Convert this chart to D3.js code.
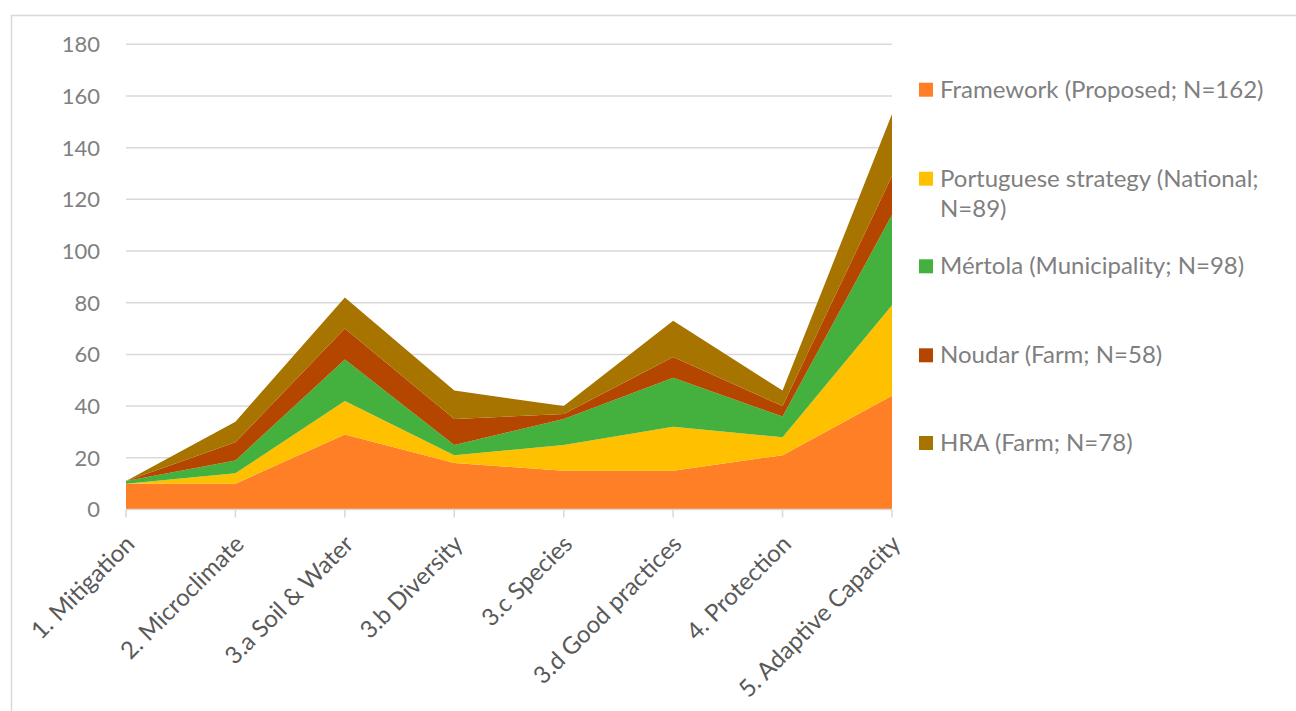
<!DOCTYPE html>
<html>
<head>
<meta charset="utf-8">
<script src="https://cdn.jsdelivr.net/npm/d3@7"></script>
<style>
  body { margin: 0; background: #fff; }
  text { font-family: Lato, "Open Sans", sans-serif; fill: #595959; }
</style>
</head>
<body>
<svg width="1296" height="711"></svg>
<script>
// data
const categories = ["1. Mitigation", "2. Microclimate", "3.a Soil & Water", "3.b Diversity",
    "3.c Species", "3.d Good practices", "4. Protection", "5. Adaptive Capacity"];
const seriesNames = ["Framework (Proposed; N=162)", "Portuguese strategy (National; N=89)",
    "Mértola (Municipality; N=98)", "Noudar (Farm; N=58)", "HRA (Farm; N=78)"];
const framework = [10, 10, 29, 18, 15, 15, 21, 44];
const portuguese = [0, 4, 13, 3, 10, 17, 7, 35];
const mertola = [1, 5, 16, 4, 10, 19, 8, 35];
const noudar = [0, 7, 12, 10, 2, 8, 4, 15];
const hra = [0, 8, 12, 11, 3, 14, 6, 24];
const yTicks = [0, 20, 40, 60, 80, 100, 120, 140, 160, 180];

const colors = ["#FF7F27", "#FFC000", "#44B03E", "#B54600", "#A77400"];
const allSeries = [framework, portuguese, mertola, noudar, hra];

const margin = {
    top: 44.3,
    left: 126,
    right: 892,
    bottom: 509.5
};

// table for stack
let dataset = categories.map((c, i) => {
    let row = { cat: c };
    seriesNames.forEach((s, j) => row[s] = allSeries[j][i]);
    return row;
});

const stacked = d3.stack().keys(seriesNames)(dataset);

// x
const x = d3.scalePoint()
    .domain(categories)
    .range([margin.left, margin.right]);

// y
const y = d3.scaleLinear()
    .domain([0, 180])
    .range([margin.bottom, margin.top]);

const svg = d3.select('svg');

// chart border
svg.append('rect')
    .attr('x', 11.5).attr('y', 15.5)
    .attr('width', 1300).attr('height', 720)
    .attr('fill', 'none')
    .attr('stroke', '#d9d9d9')
    .attr('stroke-width', 1.5);

// gridlines
svg.append('g')
    .selectAll('line')
    .data(yTicks.filter(d => d > 0))
    .join('line')
    .attr('x1', margin.left).attr('x2', margin.right)
    .attr('y1', d => y(d)).attr('y2', d => y(d))
    .attr('stroke', '#d9d9d9')
    .attr('stroke-width', 1.5);

// y labels
svg.append('g')
    .selectAll('text')
    .data(yTicks)
    .join('text')
    .attr('x', 100)
    .attr('y', d => y(d))
    .attr('dy', '0.36em')
    .attr('text-anchor', 'end')
    .attr('font-size', 22)
    .style('fill', '#7f7f7f')
    .text(d => d);

// area
const area = d3.area()
    .x(d => x(d.data.cat))
    .y0(d => y(d[0]))
    .y1(d => y(d[1]));

svg.append('g')
    .selectAll('path')
    .data(stacked)
    .join('path')
    .attr('fill', (d, i) => colors[i])
    .attr('d', area);

// x axis
svg.append('line')
    .attr('x1', margin.left).attr('x2', margin.right)
    .attr('y1', y(0)).attr('y2', y(0))
    .attr('stroke', '#d9d9d9')
    .attr('stroke-width', 1.5);

svg.append('g')
    .selectAll('line')
    .data(categories)
    .join('line')
    .attr('x1', d => x(d)).attr('x2', d => x(d))
    .attr('y1', y(0)).attr('y2', y(0) + 8)
    .attr('stroke', '#d9d9d9')
    .attr('stroke-width', 1.5);

svg.append('g')
    .selectAll('text')
    .data(categories)
    .join('text')
    .attr('transform', d => `translate(${x(d) - 2}, ${y(0) + 24}) rotate(-45)`)
    .attr('text-anchor', 'end')
    .attr('dy', '0.71em')
    .attr('font-size', 24)
    .text(d => d);

// legend
const legendY = [89.7, 178.7, 266.3, 355.3, 443];
const legendLines = [
    ["Framework (Proposed; N=162)"],
    ["Portuguese strategy (National;", "N=89)"],
    ["Mértola (Municipality; N=98)"],
    ["Noudar (Farm; N=58)"],
    ["HRA (Farm; N=78)"]
];

const legend = svg.append('g')
    .selectAll('g')
    .data(seriesNames)
    .join('g')
    .attr('transform', (d, i) => `translate(919, ${legendY[i]})`);

legend.append('rect')
    .attr('x', 0).attr('y', -7)
    .attr('width', 14).attr('height', 14)
    .attr('fill', (d, i) => colors[i]);

legend.append('text')
    .attr('x', 21)
    .attr('y', 8)
    .attr('font-size', 24)
    .style('fill', '#7f7f7f')
    .selectAll('tspan')
    .data((d, i) => legendLines[i])
    .join('tspan')
    .attr('x', 21)
    .attr('dy', (d, k) => k === 0 ? 0 : 30)
    .text(d => d);
</script>
</body>
</html>
